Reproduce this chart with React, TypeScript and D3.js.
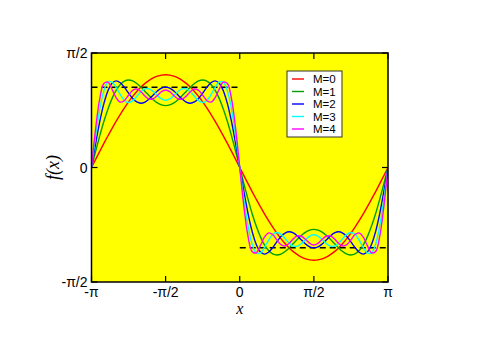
import React from "react";
import * as d3 from "d3";

const xDeg = [-180,-175,-170,-165,-160,-155,-150,-145,-140,-135,-130,-125,-120,-115,-110,-105,-100,-95,-90,-85,-80,-75,-70,-65,-60,-55,-50,-45,-40,-35,-30,-25,-20,-15,-10,-5,0,5,10,15,20,25,30,35,40,45,50,55,60,65,70,75,80,85,90,95,100,105,110,115,120,125,130,135,140,145,150,155,160,165,170,175,180];

const m0 = [0,0.111,0.221,0.330,0.435,0.538,0.637,0.730,0.818,0.900,0.975,1.043,1.103,1.154,1.196,1.230,1.254,1.268,1.273,1.268,1.254,1.230,1.196,1.154,1.103,1.043,0.975,0.900,0.818,0.730,0.637,0.538,0.435,0.330,0.221,0.111,0,-0.111,-0.221,-0.330,-0.435,-0.538,-0.637,-0.730,-0.818,-0.900,-0.975,-1.043,-1.103,-1.154,-1.196,-1.230,-1.254,-1.268,-1.273,-1.268,-1.254,-1.230,-1.196,-1.154,-1.103,-1.043,-0.975,-0.900,-0.818,-0.730,-0.637,-0.538,-0.435,-0.330,-0.221,-0.111,0];
const m1 = [0,0.221,0.433,0.630,0.803,0.948,1.061,1.140,1.186,1.200,1.188,1.153,1.103,1.044,0.984,0.930,0.886,0.858,0.849,0.858,0.886,0.930,0.984,1.044,1.103,1.153,1.188,1.200,1.186,1.140,1.061,0.948,0.803,0.630,0.433,0.221,0,-0.221,-0.433,-0.630,-0.803,-0.948,-1.061,-1.140,-1.186,-1.200,-1.188,-1.153,-1.103,-1.044,-0.984,-0.930,-0.886,-0.858,-0.849,-0.858,-0.886,-0.930,-0.984,-1.044,-1.103,-1.153,-1.188,-1.200,-1.186,-1.140,-1.061,-0.948,-0.803,-0.630,-0.433,-0.221,0];
const m2 = [0,0.328,0.628,0.876,1.054,1.157,1.188,1.162,1.099,1.020,0.948,0.899,0.882,0.898,0.940,0.996,1.050,1.089,1.103,1.089,1.050,0.996,0.940,0.898,0.882,0.899,0.948,1.020,1.099,1.162,1.188,1.157,1.054,0.876,0.628,0.328,0,-0.328,-0.628,-0.876,-1.054,-1.157,-1.188,-1.162,-1.099,-1.020,-0.948,-0.899,-0.882,-0.898,-0.940,-0.996,-1.050,-1.089,-1.103,-1.089,-1.050,-0.996,-0.940,-0.898,-0.882,-0.899,-0.948,-1.020,-1.099,-1.162,-1.188,-1.157,-1.054,-0.876,-0.628,-0.328,0];
const m3 = [0,0.433,0.799,1.051,1.171,1.172,1.097,0.998,0.920,0.892,0.917,0.976,1.040,1.079,1.079,1.043,0.988,0.940,0.922,0.940,0.988,1.043,1.079,1.079,1.040,0.976,0.917,0.892,0.920,0.998,1.097,1.172,1.171,1.051,0.799,0.433,0,-0.433,-0.799,-1.051,-1.171,-1.172,-1.097,-0.998,-0.920,-0.892,-0.917,-0.976,-1.040,-1.079,-1.079,-1.043,-0.988,-0.940,-0.922,-0.940,-0.988,-1.043,-1.079,-1.079,-1.040,-0.976,-0.917,-0.892,-0.920,-0.998,-1.097,-1.172,-1.171,-1.051,-0.799,-0.433,0];
const m4 = [0,0.533,0.941,1.151,1.171,1.072,0.956,0.897,0.920,0.992,1.058,1.076,1.040,0.979,0.938,0.943,0.988,1.040,1.063,1.040,0.988,0.943,0.938,0.979,1.040,1.076,1.058,0.992,0.920,0.897,0.956,1.072,1.171,1.151,0.941,0.533,0,-0.533,-0.941,-1.151,-1.171,-1.072,-0.956,-0.897,-0.920,-0.992,-1.058,-1.076,-1.040,-0.979,-0.938,-0.943,-0.988,-1.040,-1.063,-1.040,-0.988,-0.943,-0.938,-0.979,-1.040,-1.076,-1.058,-0.992,-0.920,-0.897,-0.956,-1.072,-1.171,-1.151,-0.941,-0.533,0];

const seriesNames = ["M=0", "M=1", "M=2", "M=3", "M=4"];
const seriesValues = [m0, m1, m2, m3, m4];
const seriesColors = ["#ff0000", "#00a000", "#0000ff", "#00ffff", "#ff00ff"];

// square-wave reference (dashed)
const stepX = [[-Math.PI, 0], [0, Math.PI]];
const stepY = [1.1, -1.1];

const xTicks = [-Math.PI, -Math.PI / 2, 0, Math.PI / 2, Math.PI];
const xTickLabels = ["-π", "-π/2", "0", "π/2", "π"];
const yTicks = [-Math.PI / 2, 0, Math.PI / 2];
const yTickLabels = ["-π/2", "0", "π/2"];

const W = 500, H = 353;
const L = 91.5, R = 388, T = 53, B = 282;

export default function App() {
  const x = d3.scaleLinear().domain([-Math.PI, Math.PI]).range([L, R]);
  const y = d3.scaleLinear().domain([-Math.PI / 2, Math.PI / 2]).range([B, T]);
  const line = d3
    .line<number>()
    .x((_, i) => x((xDeg[i] * Math.PI) / 180))
    .y((d) => y(d))
    .curve(d3.curveCatmullRom.alpha(0.5));
  const sans = "'Liberation Sans', Arial, Helvetica, sans-serif";
  const serif = "'Liberation Serif', 'Times New Roman', serif";
  const legX = 287, legY = 71, legW = 55, legH = 66;
  const legStep = 12.5;
  return (
    <svg width={W} height={H} style={{ position: "absolute", left: 0, top: 0 }}>
      <rect x={0} y={0} width={W} height={H} fill="#ffffff" />
      <rect x={L} y={T} width={R - L} height={B - T} fill="#ffff00" />
      <defs>
        <clipPath id="plotclip">
          <rect x={L} y={T} width={R - L} height={B - T} />
        </clipPath>
      </defs>
      <g clipPath="url(#plotclip)">
        {stepX.map((seg, i) => (
          <line
            key={i}
            x1={x(seg[0])}
            x2={x(seg[1])}
            y1={y(stepY[i])}
            y2={y(stepY[i])}
            stroke="#000"
            strokeWidth={1.5}
            strokeDasharray="6,4"
          />
        ))}
        {seriesValues.map((vals, i) => (
          <path key={i} d={line(vals) || ""} fill="none" stroke={seriesColors[i]} strokeWidth={1.4} />
        ))}
      </g>
      {/* ticks */}
      {xTicks.map((t, i) => (
        <g key={"xt" + i}>
          <line x1={x(t)} x2={x(t)} y1={B} y2={B - 6} stroke="#000" strokeWidth={1.2} />
          <line x1={x(t)} x2={x(t)} y1={T} y2={T + 6} stroke="#000" strokeWidth={1.2} />
          <text x={x(t)} y={B + 14.5} textAnchor="middle" fontFamily={sans} fontSize={14} fill="#000">
            {xTickLabels[i]}
          </text>
        </g>
      ))}
      {yTicks.map((t, i) => (
        <g key={"yt" + i}>
          <line x1={L} x2={L + 6} y1={y(t)} y2={y(t)} stroke="#000" strokeWidth={1.2} />
          <line x1={R} x2={R - 6} y1={y(t)} y2={y(t)} stroke="#000" strokeWidth={1.2} />
          <text x={L - 4} y={y(t) + 5} textAnchor="end" fontFamily={sans} fontSize={14} fill="#000">
            {yTickLabels[i]}
          </text>
        </g>
      ))}
      <rect x={L} y={T} width={R - L} height={B - T} fill="none" stroke="#000" strokeWidth={1.5} />
      {/* axis titles */}
      <text x={(L + R) / 2} y={314} textAnchor="middle" fontFamily={serif} fontStyle="italic" fontSize={16} fill="#000">
        x
      </text>
      <text
        transform={`translate(59, ${(T + B) / 2}) rotate(-90)`}
        textAnchor="middle"
        fontFamily={serif}
        fontStyle="italic"
        fontSize={18}
        fill="#000"
      >
        f(x)
      </text>
      {/* legend */}
      <rect x={legX} y={legY} width={legW} height={legH} fill="#ffffff" stroke="#333" strokeWidth={1} />
      {seriesNames.map((n, i) => (
        <g key={"lg" + i}>
          <line x1={292} x2={304} y1={79 + i * legStep} y2={79 + i * legStep} stroke={seriesColors[i]} strokeWidth={1.4} />
          <text x={313} y={79 + i * legStep + 4} fontFamily={sans} fontSize={11.5} fill="#000">
            {n}
          </text>
        </g>
      ))}
    </svg>
  );
}
